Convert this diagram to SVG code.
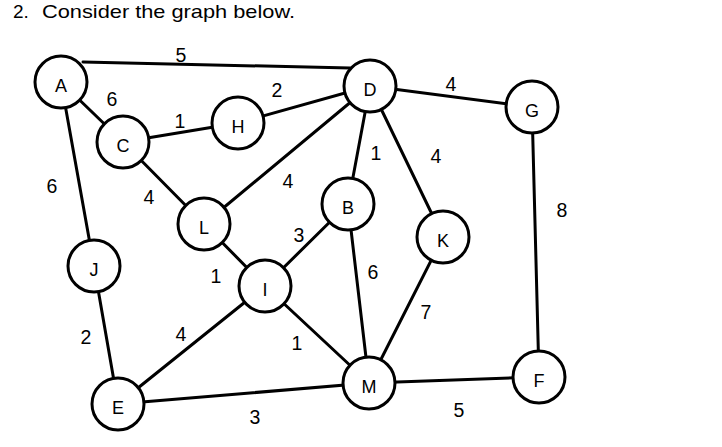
<svg xmlns="http://www.w3.org/2000/svg" width="722" height="447" viewBox="0 0 722 447">
<style>
.e{stroke:#000;stroke-width:3;fill:none;stroke-linecap:round}
.n circle{fill:#fff;stroke:#000;stroke-width:3}
.n text{font-family:"Liberation Sans",Arial,sans-serif;font-size:18px;text-anchor:middle;fill:#000}
.w{font-family:"Liberation Sans",Arial,sans-serif;font-size:19.5px;text-anchor:middle;dominant-baseline:central;fill:#000}
.t{font-family:"Liberation Sans",Arial,sans-serif;font-size:19px;fill:#000}
</style>
<rect width="722" height="447" fill="#fff"/>
<text class="t" x="13" y="18">2.</text>
<text class="t" x="42" y="18" textLength="253" lengthAdjust="spacingAndGlyphs">Consider the graph below.</text>
<g id="edges">
<line class="e" x1="83" y1="62" x2="350" y2="68"/>
<line class="e" x1="61" y1="82" x2="123" y2="142"/>
<line class="e" x1="61" y1="82" x2="94" y2="266"/>
<line class="e" x1="123" y1="142" x2="238" y2="123"/>
<line class="e" x1="238" y1="123" x2="370" y2="86"/>
<line class="e" x1="123" y1="142" x2="204" y2="224"/>
<line class="e" x1="204" y1="224" x2="370" y2="86"/>
<line class="e" x1="370" y1="86" x2="348" y2="204"/>
<line class="e" x1="370" y1="86" x2="443" y2="237"/>
<line class="e" x1="370" y1="86" x2="532" y2="107"/>
<line class="e" x1="532" y1="107" x2="539" y2="377"/>
<line class="e" x1="204" y1="224" x2="265" y2="286"/>
<line class="e" x1="348" y1="204" x2="265" y2="286"/>
<line class="e" x1="348" y1="204" x2="369" y2="383"/>
<line class="e" x1="443" y1="237" x2="369" y2="383"/>
<line class="e" x1="265" y1="286" x2="369" y2="383"/>
<line class="e" x1="265" y1="286" x2="118" y2="404"/>
<line class="e" x1="94" y1="266" x2="118" y2="404"/>
<line class="e" x1="118" y1="404" x2="369" y2="383"/>
<line class="e" x1="369" y1="383" x2="539" y2="377"/>
</g>
<g id="weights">
<text class="w" x="181" y="55">5</text>
<text class="w" x="112" y="99">6</text>
<text class="w" x="180" y="121">1</text>
<text class="w" x="277" y="90">2</text>
<text class="w" x="52" y="186">6</text>
<text class="w" x="149" y="197">4</text>
<text class="w" x="288" y="181">4</text>
<text class="w" x="376" y="153">1</text>
<text class="w" x="436" y="156">4</text>
<text class="w" x="451" y="84">4</text>
<text class="w" x="562" y="210">8</text>
<text class="w" x="299" y="235">3</text>
<text class="w" x="216" y="276">1</text>
<text class="w" x="373" y="272">6</text>
<text class="w" x="426" y="312">7</text>
<text class="w" x="181" y="334">4</text>
<text class="w" x="86" y="337">2</text>
<text class="w" x="297" y="343">1</text>
<text class="w" x="255" y="417">3</text>
<text class="w" x="459" y="410">5</text>
</g>
<g id="A" class="n"><circle cx="61" cy="82" r="26"/><text x="61" y="92">A</text></g>
<g id="C" class="n"><circle cx="123" cy="142" r="26"/><text x="123" y="152">C</text></g>
<g id="H" class="n"><circle cx="238" cy="123" r="26"/><text x="238" y="133">H</text></g>
<g id="D" class="n"><circle cx="370" cy="86" r="26"/><text x="370" y="96">D</text></g>
<g id="G" class="n"><circle cx="532" cy="107" r="26"/><text x="532" y="117">G</text></g>
<g id="B" class="n"><circle cx="348" cy="204" r="26"/><text x="348" y="214">B</text></g>
<g id="K" class="n"><circle cx="443" cy="237" r="26"/><text x="443" y="247">K</text></g>
<g id="L" class="n"><circle cx="204" cy="224" r="26"/><text x="204" y="234">L</text></g>
<g id="J" class="n"><circle cx="94" cy="266" r="26"/><text x="94" y="276">J</text></g>
<g id="I" class="n"><circle cx="265" cy="286" r="26"/><text x="265" y="296">I</text></g>
<g id="E" class="n"><circle cx="118" cy="404" r="26"/><text x="118" y="414">E</text></g>
<g id="M" class="n"><circle cx="369" cy="383" r="26"/><text x="369" y="393">M</text></g>
<g id="F" class="n"><circle cx="539" cy="377" r="26"/><text x="539" y="387">F</text></g>
</svg>
